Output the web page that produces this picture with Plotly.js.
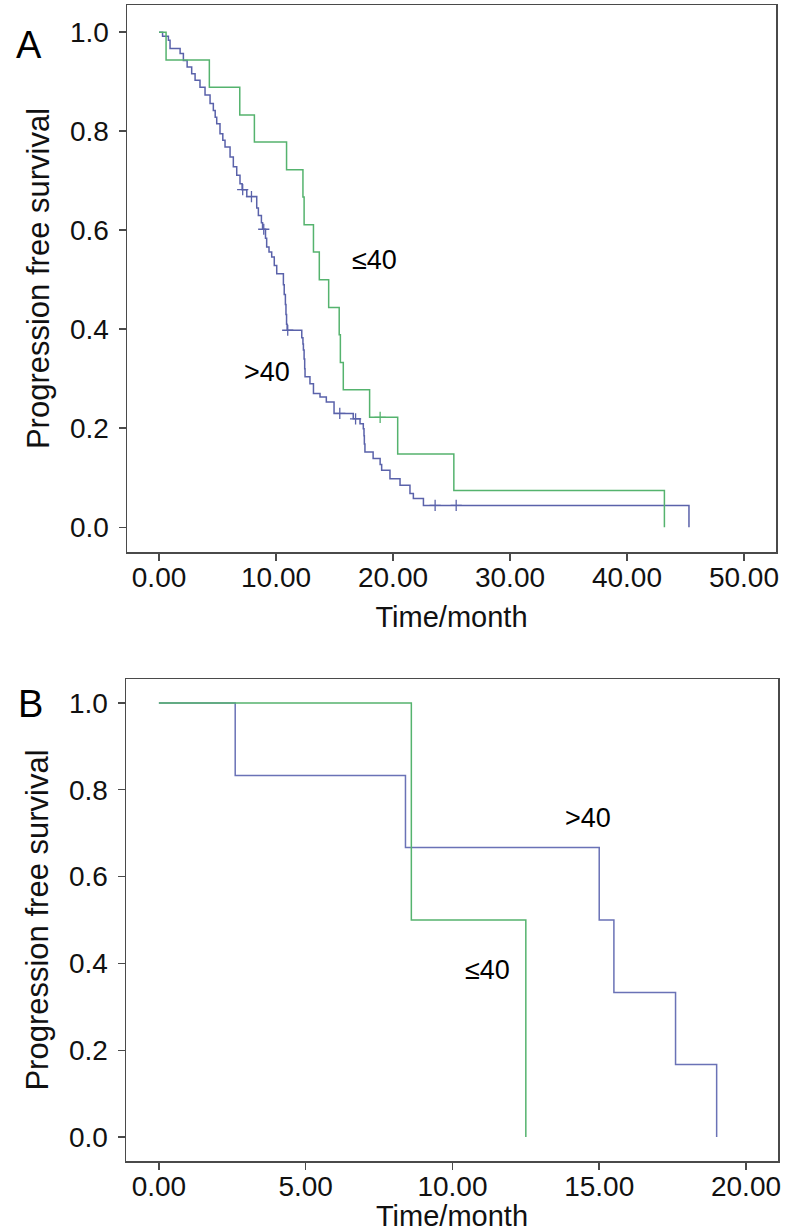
<!DOCTYPE html>
<html>
<head>
<meta charset="utf-8">
<script src="https://cdn.plot.ly/plotly-3.0.1.min.js"></script>
<style>html,body{margin:0;padding:0;background:#fff;}#chart{width:792px;height:1232px;}</style>
</head>
<body>
<div id="chart"></div>
<script>
// ---------- Panel A data (Kaplan-Meier, time in months) ----------
const aLe40Times = [0.6, 4.3, 6.9, 8.15, 10.9, 12.3, 12.4, 13.2, 13.7, 14.5, 15.4, 15.5, 15.75, 18.0, 20.4, 25.2, 43.2];
const aLe40Surv  = [0.944, 0.889, 0.833, 0.778, 0.722, 0.667, 0.611, 0.556, 0.5, 0.444, 0.389, 0.333, 0.278, 0.222, 0.148, 0.074, 0];
const aLe40Censor = [18.9];

const aGt40Times = [0.3, 0.8, 0.94, 1.8, 2.08, 2.4, 2.79, 3.08, 3.5, 3.93, 4.36, 4.64, 4.8, 4.93, 5.21, 5.45, 5.64, 6.07, 6.35, 6.64, 6.92, 7.1, 7.5, 8.35, 8.49, 8.75, 8.85, 9.1, 9.2, 9.4, 9.63, 9.85, 10.06, 10.63, 10.7, 10.8, 10.85, 10.9, 10.95, 12.2, 12.3, 12.34, 12.4, 12.45, 12.48, 12.9, 13.2, 13.76, 14.3, 14.96, 16.6, 17.18, 17.46, 17.52, 17.55, 17.6, 18.3, 18.9, 19.03, 19.74, 20.6, 21.45, 21.74, 22.6, 45.3];
const aGt40Surv  = [0.992, 0.984, 0.967, 0.957, 0.943, 0.93, 0.916, 0.903, 0.889, 0.873, 0.856, 0.842, 0.828, 0.815, 0.795, 0.782, 0.768, 0.748, 0.728, 0.711, 0.694, 0.682, 0.668, 0.645, 0.63, 0.615, 0.602, 0.584, 0.566, 0.556, 0.546, 0.529, 0.512, 0.49, 0.47, 0.45, 0.43, 0.41, 0.398, 0.383, 0.37, 0.358, 0.34, 0.32, 0.304, 0.29, 0.27, 0.263, 0.253, 0.23, 0.219, 0.209, 0.199, 0.185, 0.168, 0.152, 0.139, 0.127, 0.115, 0.098, 0.085, 0.068, 0.058, 0.044, 0];
const aGt40Censor = [7.15, 7.9, 8.95, 11.0, 15.45, 16.8, 23.6, 25.4];

// ---------- Panel B data ----------
const bLe40Times = [8.6, 12.5];
const bLe40Surv  = [0.5, 0];
const bGt40Times = [2.6, 8.4, 15.0, 15.5, 17.6, 19.0];
const bGt40Surv  = [0.833, 0.667, 0.5, 0.333, 0.167, 0];

// ---------- labels ----------
const xTicksA = [0, 10, 20, 30, 40, 50];
const xTicksB = [0, 5, 10, 15, 20];
const yTicks = [0, 0.2, 0.4, 0.6, 0.8, 1.0];
const groupLe = '\u226440';
const groupGt = '>40';
const xTitle = 'Time/month';
const yTitle = 'Progression free survival';

const GREEN = '#55b36e';
const BLUE = '#5a62aa';
const BLUE_B = '#6a72b6';
const FONT = '"Liberation Sans", Arial, Helvetica, sans-serif';

function stepAt(times, surv, t) {
  let s = 1;
  for (let i = 0; i < times.length; i++) { if (times[i] <= t) s = surv[i]; }
  return s;
}
function curve(times, surv, color, xa, ya) {
  return {x: [0].concat(times), y: [1].concat(surv), mode: 'lines', type: 'scatter',
    line: {shape: 'hv', color: color, width: 1.5}, xaxis: xa, yaxis: ya, hoverinfo: 'skip', showlegend: false};
}
function censors(times, surv, ct, color, xa, ya) {
  return {x: ct, y: ct.map(t => stepAt(times, surv, t)), mode: 'markers', type: 'scatter',
    marker: {symbol: 'cross-thin', size: 8, line: {color: color, width: 1.3}}, xaxis: xa, yaxis: ya,
    hoverinfo: 'skip', showlegend: false};
}

const data = [
  curve(aGt40Times, aGt40Surv, BLUE, 'x', 'y'),
  censors(aGt40Times, aGt40Surv, aGt40Censor, BLUE, 'x', 'y'),
  curve(aLe40Times, aLe40Surv, GREEN, 'x', 'y'),
  censors(aLe40Times, aLe40Surv, aLe40Censor, GREEN, 'x', 'y'),
  curve(bGt40Times, bGt40Surv, BLUE_B, 'x2', 'y2'),
  curve(bLe40Times, bLe40Surv, GREEN, 'x2', 'y2')
];

const W = 792, H = 1232;
function dx(a, b) { return [a / W, b / W]; }
function dy(top, bottom) { return [1 - bottom / H, 1 - top / H]; }

const axCommon = {
  showline: true, mirror: true, linecolor: '#4a4a4a', linewidth: 1.5,
  ticks: 'outside', ticklen: 7, tickwidth: 1.5, tickcolor: '#4a4a4a',
  showgrid: false, zeroline: false,
  tickfont: {family: FONT, size: 28, color: '#111'}
};
const xTitleObj = {text: xTitle, font: {family: FONT, size: 29, color: '#111'}, standoff: 14};
const yTitleObj = {text: yTitle, font: {family: FONT, size: 31, color: '#111'}, standoff: 11};

const layout = {
  width: W, height: H, margin: {l: 0, r: 0, t: 0, b: 0},
  paper_bgcolor: '#fff', plot_bgcolor: '#fff', showlegend: false,
  font: {family: FONT, color: '#111'},
  xaxis: Object.assign({}, axCommon, {domain: dx(127, 776), range: [-2.74, 52.74], tickvals: xTicksA, tickformat: '.2f',
    ticklabelstandoff: -7, title: xTitleObj, anchor: 'y'}),
  yaxis: Object.assign({}, axCommon, {domain: dy(5, 552), range: [-0.05, 1.055], tickvals: yTicks, tickformat: '.1f',
    ticklabelstandoff: 4, title: yTitleObj, anchor: 'x'}),
  xaxis2: Object.assign({}, axCommon, {domain: dx(126, 778), range: [-1.12, 21.09], tickvals: xTicksB, tickformat: '.2f',
    ticklabelstandoff: -7, title: xTitleObj, anchor: 'y2'}),
  yaxis2: Object.assign({}, axCommon, {domain: dy(679, 1161), range: [-0.055, 1.055], tickvals: yTicks, tickformat: '.1f',
    ticklabelstandoff: 4, title: yTitleObj, anchor: 'x2'}),
  annotations: [
    {text: 'A', xref: 'paper', yref: 'paper', x: 14 / W, y: 1 - 22 / H, showarrow: false, font: {family: FONT, size: 38, color: '#000'}},
    {text: 'B', xref: 'paper', yref: 'paper', x: 16 / W, y: 1 - 704 / H, showarrow: false, font: {family: FONT, size: 38, color: '#000'}},
    {text: groupLe, xref: 'x', yref: 'y', x: 18.4, y: 0.54, showarrow: false, font: {family: FONT, size: 27, color: '#000'}},
    {text: groupGt, xref: 'x', yref: 'y', x: 9.2, y: 0.313, showarrow: false, font: {family: FONT, size: 27, color: '#000'}},
    {text: groupGt, xref: 'x2', yref: 'y2', x: 14.62, y: 0.735, showarrow: false, font: {family: FONT, size: 27, color: '#000'}},
    {text: groupLe, xref: 'x2', yref: 'y2', x: 11.2, y: 0.385, showarrow: false, font: {family: FONT, size: 27, color: '#000'}}
  ]
};

Plotly.newPlot('chart', data, layout, {staticPlot: true, displayModeBar: false});
</script>
</body>
</html>
